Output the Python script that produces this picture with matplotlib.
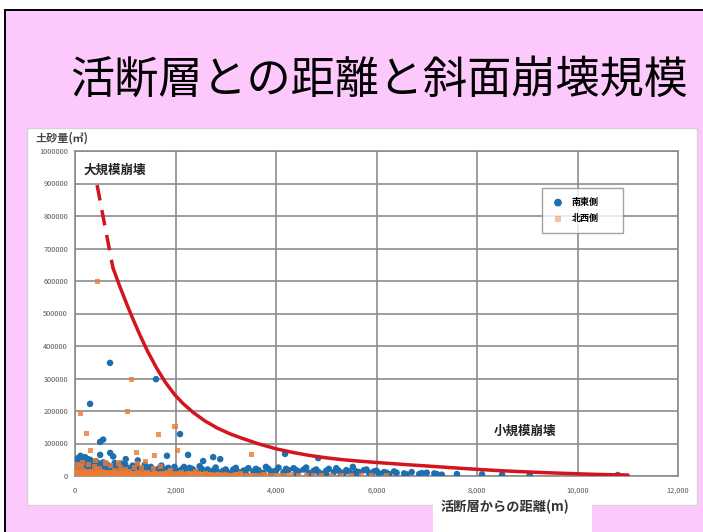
import matplotlib
matplotlib.use("Agg")
import matplotlib.pyplot as plt
from matplotlib.patches import Rectangle
from matplotlib.ticker import FuncFormatter

plt.rcParams['font.family'] = ['Noto Sans CJK JP', 'DejaVu Sans']

W, H = 703, 532

title = "活断層との距離と斜面崩壊規模"
y_title = "土砂量(㎥)"
x_title = "活断層からの距離(m)"
series_names = ["南東側", "北西側"]
label_large = "大規模崩壊"
label_small = "小規模崩壊"

x_ticks = [0, 2000, 4000, 6000, 8000, 10000, 12000]
y_ticks = [0, 100000, 200000, 300000, 400000, 500000, 600000, 700000, 800000, 900000, 1000000]

# 南東側: distance (m), volume (thousand m3)
se_dist = [300, 697, 1612, 500, 560, 2090,
           80, 110, 200, 300, 500, 700, 760, 1010, 1830, 2250, 2750, 2890, 2550,
           4180, 4840, 5530, 1250,
           20, 40, 60, 80, 100, 120, 140, 160, 180, 200, 230, 260, 290, 320, 350,
           380, 410, 440, 470, 500, 540, 580, 620, 660, 700, 740, 790, 840, 890,
           950, 1000, 1060, 1120, 1180, 1240, 1300, 1360, 1420, 1480, 1540, 1600,
           1680, 1750, 1830, 1900, 1980, 2050, 2120, 2200, 2280, 2360, 2440, 2520,
           2600, 2680, 2760, 2850, 2950, 3050, 3150, 3250, 3350, 3450, 3550, 3650,
           3750, 3850, 3950, 4050, 4150, 4250, 4350, 4450, 4550, 4650, 4750, 4850,
           4950, 5050, 5150, 5250, 5350, 5450, 5550, 5650, 5750, 5850, 5950, 6050,
           6150, 6250, 6400, 6550, 6700, 6850, 7000, 7150, 7300, 7600, 8100, 8500,
           9050, 10800,
           30, 70, 90, 150, 210, 250, 340, 420, 480, 560, 640, 720, 820, 920, 1030,
           1150, 1270, 1390, 1510, 1630, 1720, 1860, 2000, 2170, 2330, 2480, 2640,
           2800, 3000, 3200, 3400, 3600, 3800, 4000, 4200, 4400, 4600, 4800, 5000,
           5200, 5400, 5600, 5800, 6000, 6200, 6350, 6600, 6900, 7200,
           60, 130, 240, 330, 450, 600, 780, 960, 1150, 1350, 1550, 1750, 1950,
           2150, 2400, 2650, 2900, 3150, 3400, 3650, 3900, 4150, 4400, 4700, 5000,
           5300, 5600, 5900]
se_vol = [222, 348, 298, 105, 112, 129,
          56, 62, 58, 50, 65, 71, 60, 52, 62, 65, 58, 52, 46,
          68, 55, 28, 48,
          48, 30, 55, 38, 22, 45, 30, 18, 35, 28, 42, 20, 33, 25, 40,
          15, 30, 22, 38, 18, 28, 35, 20, 30, 15, 25, 40, 18, 28,
          22, 35, 15, 25, 18, 30, 12, 22, 28, 15, 20, 12,
          25, 18, 22, 10, 28, 15, 20, 12, 25, 18, 10, 22,
          14, 8, 18, 12, 16, 10, 20, 12, 16, 24, 14, 18,
          10, 22, 14, 26, 12, 18, 24, 14, 20, 10, 16, 12,
          8, 22, 12, 16, 10, 14, 8, 12, 18, 10, 14, 8,
          12, 6, 10, 8, 12, 6, 10, 8, 4, 6, 5, 4,
          3, 3,
          40, 25, 50, 48, 38, 52, 30, 45, 25, 42, 35, 28, 32, 38, 25,
          32, 20, 35, 28, 18, 32, 25, 18, 28, 22, 30, 20,
          26, 20, 25, 18, 22, 28, 16, 22, 18, 26, 20, 16,
          24, 18, 14, 20, 16, 10, 14, 5, 9, 6,
          8, 12, 6, 10, 8, 12, 6, 10, 5, 8, 6, 10, 5,
          8, 6, 4, 8, 5, 6, 4, 7, 5, 8, 4, 6,
          4, 5, 3]

# 北西側: distance (m), volume (thousand m3)
nw_dist = [100, 440, 1035, 1115, 230, 1670, 1990, 2030, 300, 1590, 3520, 1230,
           50, 140, 380, 600, 900, 1250, 1400, 1320, 1700, 400, 860,
           10, 30, 50, 70, 90, 110, 130, 150, 170, 190, 210, 230, 250, 270, 290,
           310, 330, 350, 370, 390, 410, 430, 450, 470, 490, 520, 550, 580, 610,
           640, 670, 700, 730, 760, 790, 820, 850, 880, 910, 940, 970, 1000, 1040,
           1080, 1120, 1160, 1200, 1240, 1280, 1360, 1400, 1440, 1480, 1520, 1560,
           1600, 1650, 1750, 1800, 1850, 1900, 1950, 2000, 2060, 2120, 2180, 2240,
           2300, 2360, 2420, 2480, 2540, 2600, 2680, 2760, 2840, 2920, 3000, 3100,
           3200, 3300, 3450, 3600, 3750, 3900, 4100, 4300, 4600, 4900, 5300, 5700,
           6200,
           20, 40, 60, 80, 100, 120, 140, 160, 180, 200, 220, 240, 260, 280, 300,
           320, 340, 360, 380, 400, 420, 440, 460, 480, 500, 530, 560, 590, 620,
           650, 680, 710, 740, 770, 800, 830, 860, 890, 920, 950, 980, 1020, 1060,
           1100, 1140, 1180, 1220, 1260, 1300, 1340, 1380, 1420, 1460, 1500, 1540,
           1580, 1620, 1680, 1720, 1780, 1830, 1880, 1930, 1980, 2030, 2090, 2150,
           2210, 2270, 2330, 2390, 2450, 2510, 2570, 2640, 2720, 2800, 2880, 2960,
           3050, 3150, 3250, 3380, 3520, 3680, 3820, 4000, 4200, 4450, 4750, 5100,
           5500, 5900,
           20, 120, 260, 480, 700, 1000, 1180, 1560, 1900, 2400]
nw_vol = [191, 597, 197, 298, 131, 129, 151, 77, 77, 62, 65, 71,
          35, 42, 30, 40, 25, 38, 45, 25, 30, 48, 40,
          8, 3, 12, 5, 15, 2, 9, 4, 18, 6, 11, 3, 7, 14, 4,
          9, 2, 12, 6, 3, 8, 20, 5, 10, 3, 7, 13, 4, 9,
          2, 6, 11, 3, 8, 16, 5, 2, 9, 4, 12, 6, 3, 8,
          14, 4, 7, 2, 10, 5, 3, 8, 12, 4, 6, 2,
          9, 5, 3, 7, 11, 4, 8, 2, 6, 10, 3, 7,
          4, 9, 2, 6, 3, 8, 4, 2, 6, 3, 5, 2,
          4, 8, 3, 2, 5, 3, 2, 4, 3, 2, 3, 2,
          2,
          1, 6, 2, 10, 4, 7, 1, 12, 3, 8, 5, 1, 10, 6, 2,
          14, 5, 1, 9, 4, 2, 11, 6, 1, 8, 3, 10, 1, 6,
          12, 2, 7, 4, 1, 10, 6, 3, 13, 1, 7, 4, 10, 2,
          6, 9, 1, 5, 8, 3, 11, 2, 6, 9, 1, 5,
          7, 2, 4, 8, 1, 5, 2, 6, 3, 8, 1, 5,
          2, 6, 1, 4, 7, 2, 5, 1, 4, 2, 5, 1,
          3, 1, 4, 2, 1, 3, 1, 2, 1, 2, 1, 2,
          1, 1,
          22, 28, 35, 24, 32, 20, 27, 22, 18, 15]

# trend curve through the scatter, read as (distance m, volume thousand m3)
trend_dash_d = [440, 600, 756]
trend_dash_v = [895, 765, 640]
trend_d = [756, 900, 1035, 1150, 1294, 1450, 1632, 1800, 1990, 2150, 2348,
           2580, 2826, 3080, 3343, 3650, 4020, 4350, 4677, 5000, 5333, 5670,
           6010, 6550, 7124, 7550, 8000, 8500, 9000, 9500, 10050, 10500, 11005]
trend_v = [640, 580, 527, 484, 433, 382, 330, 288, 249, 223, 196,
           170, 148, 130, 115, 99, 83, 72, 63, 56, 50, 45.5,
           41.5, 35.5, 29.5, 25, 20.5, 16, 12.5, 9.5, 6.5, 4.5, 3]


def fx(px):
    return px / W


def fy(py):
    return 1 - py / H


fig = plt.figure(figsize=(W / 100, H / 100), dpi=100)
fig.patch.set_facecolor("white")

# slide background and frame
fig.patches.append(Rectangle((fx(5), fy(H + 20)), 1.2, fy(10) - fy(H + 20),
                             transform=fig.transFigure, facecolor="#FDC9FC",
                             edgecolor="black", linewidth=1.4, zorder=0))
# white chart panel
fig.patches.append(Rectangle((fx(27), fy(505)), fx(697) - fx(27), fy(128) - fy(505),
                             transform=fig.transFigure, facecolor="white",
                             edgecolor="#d8d0d8", linewidth=1.0, zorder=1))
# white box under the horizontal axis title
fig.patches.append(Rectangle((fx(433), fy(H + 5)), fx(592) - fx(433), fy(500) - fy(H + 5),
                             transform=fig.transFigure, facecolor="white",
                             edgecolor="none", zorder=1))

fig.text(fx(379), fy(80), title, fontsize=31.8, ha="center", va="center",
         color="black", zorder=3)

ax = fig.add_axes([fx(75), fy(476), fx(678) - fx(75), fy(151) - fy(476)], zorder=2)
ax.set_facecolor("white")
ax.set_xlim(0, 12000)
ax.set_ylim(0, 1000000)
ax.set_xticks(x_ticks)
ax.set_yticks(y_ticks)
ax.xaxis.set_major_formatter(FuncFormatter(lambda v, p: f"{int(v):,}"))
ax.yaxis.set_major_formatter(FuncFormatter(lambda v, p: f"{int(v)}"))
ax.tick_params(axis="both", length=0, labelsize=5.3, labelcolor="#555555")
ax.tick_params(axis="y", pad=5)
ax.tick_params(axis="x", pad=8)
ax.grid(True, color="#8c8c8c", linewidth=1.2)
ax.set_axisbelow(True)
for s in ax.spines.values():
    s.set_color("#8c8c8c")
    s.set_linewidth(1.2)

ax.scatter(se_dist, [v * 1000 for v in se_vol], s=22, color="#1F6EAD",
           edgecolors="none", label=series_names[0], zorder=3)
ax.scatter(nw_dist, [v * 1000 for v in nw_vol], s=13, marker="s", color="#EE7A30",
           alpha=0.8, edgecolors="none", label=series_names[1], zorder=4)

ax.plot(trend_dash_d, [v * 1000 for v in trend_dash_v], color="#D4141E",
        linewidth=2.5, linestyle=(0, (4.5, 2.8)), zorder=5)
ax.plot(trend_d, [v * 1000 for v in trend_v], color="#D4141E", linewidth=2.5,
        solid_capstyle="round", solid_joinstyle="round", zorder=5)

leg = ax.legend(loc="upper left", bbox_to_anchor=(0.774, 0.748, 0.135, 0.138),
                mode="expand", frameon=True, fancybox=False,
                prop={"size": 6.5, "weight": "bold"},
                handletextpad=0.8, labelspacing=0.8, borderpad=1.1,
                handlelength=1.4, borderaxespad=0, markerscale=1.2)
leg.get_frame().set_edgecolor("#8c8c8c")
leg.get_frame().set_linewidth(1.0)
leg.legend_handles[1].set_alpha(0.45)

ax.text(0.066, 0.94, label_large, transform=ax.transAxes, fontsize=9,
        fontweight="bold", ha="center", va="center", color="#222222", zorder=6)
ax.text(0.746, 0.138, label_small, transform=ax.transAxes, fontsize=9,
        fontweight="bold", ha="center", va="center", color="#222222", zorder=6)

fig.text(fx(35), fy(138), y_title, fontsize=8, fontweight="bold", ha="left",
         va="center", color="#444444", zorder=3)
fig.text(fx(505), fy(507), x_title, fontsize=9.5, fontweight="bold", ha="center",
         va="center", color="#333333", zorder=3)

fig.savefig("out.png", dpi=100)
